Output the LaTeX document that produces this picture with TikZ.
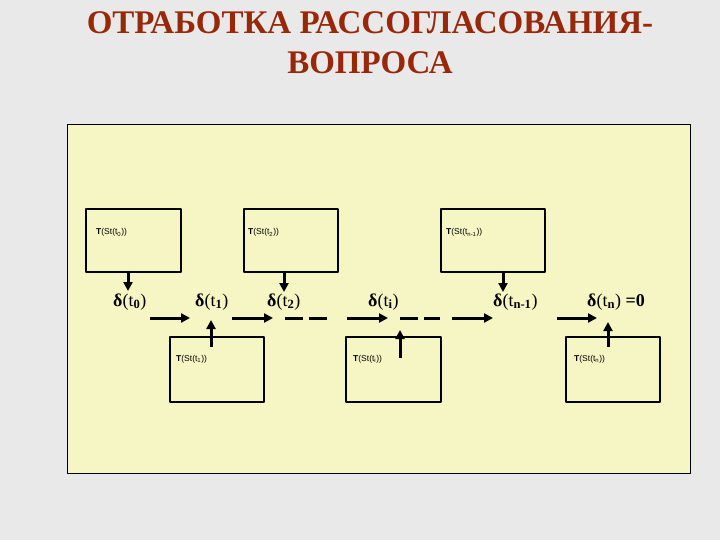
\documentclass[tikz,border=0pt]{standalone}
\usepackage{fontspec}
\setmainfont{Liberation Serif}
\newfontfamily\boxfont{Liberation Sans}
\usetikzlibrary{calc,arrows.meta,positioning}

\definecolor{slidegray}{RGB}{233,233,233}
\definecolor{panelyellow}{RGB}{246,246,196}
\definecolor{titlered}{RGB}{152,40,10}

\tikzset{
  stbox/.style={draw,line width=2pt,inner sep=0pt,minimum width=#1},
  stlabel/.style={anchor=base west,inner sep=0pt,font=\boxfont\fontsize{8.5}{9}\selectfont},
  dlabel/.style={anchor=base west,inner sep=0pt,font=\fontsize{18}{20}\selectfont},
  sarrow/.style={line width=3pt,-{Triangle[length=9pt,width=9pt]}},
  gapline/.style={line width=3pt,dash pattern=on 18pt off 6pt}
}
\newcommand{\dlt}[1]{\textbf{δ}(t\textsubscript{\textbf{#1}})}
\newcommand{\tst}[1]{\textbf{T}(St(t\textsubscript{#1}))}

\begin{document}
\begin{tikzpicture}[x=1pt,y=-1pt,line join=round]
  \fill[slidegray] (0,0) rectangle (720,540);
  \useasboundingbox (0,0) rectangle (720,540);
  \node[anchor=base,font=\fontsize{33}{36}\selectfont\bfseries,text=titlered,inner sep=0pt]
    (title1) at (370,34) {ОТРАБОТКА РАССОГЛАСОВАНИЯ-};
  \node[anchor=base,font=\fontsize{33}{36}\selectfont\bfseries,text=titlered,inner sep=0pt]
    (title2) at (370,74) {ВОПРОСА};
  \draw[fill=panelyellow,line width=1pt] (67,125) rectangle (690,473);

  % upper boxes
  \node[stbox=95pt,minimum height=63pt] (b0) at (133.5,240.5) {};
  \node[stbox=94pt,minimum height=63pt] (b2) at (291,240.5) {};
  \node[stbox=104pt,minimum height=63pt] (bn1) at (493,240.5) {};
  \node[stlabel] (l0) at ($(b0.north west)+(11,27)$) {\tst{0}};
  \node[stlabel] (l2) at ($(b2.north west)+(5,27)$) {\tst{2}};
  \node[stlabel] (ln1) at ($(bn1.north west)+(6,27)$) {\tst{n-1}};

  % lower boxes
  \node[stbox=94pt,minimum height=65pt] (b1) at (217,369.5) {};
  \node[stbox=95pt,minimum height=65pt] (bi) at (393.5,369.5) {};
  \node[stbox=94pt,minimum height=65pt] (bn) at (613,369.5) {};
  \node[stlabel] (l1) at ($(b1.north west)+(7,25)$) {\tst{1}};
  \node[stlabel] (li) at ($(bi.north west)+(8,25)$) {\tst{i}};
  \node[stlabel] (ln) at ($(bn.north west)+(9,25)$) {\tst{n}};

  % mismatch values
  \node[dlabel] (d0) at (113,306) {\dlt{0}};
  \node[dlabel] (d1) at (195,306) {\dlt{1}};
  \node[dlabel] (d2) at (267,306) {\dlt{2}};
  \node[dlabel] (di) at (368,306) {\dlt{i}};
  \node[dlabel] (dn1) at (493,306) {\dlt{n-1}};
  \node[dlabel] (dn) at (587,306) {\dlt{n} \textbf{=0}};

  \draw[sarrow] (b0.south -| 128,0) -- (128,291);
  \draw[sarrow] (b2.south -| 284,0) -- (284,292);
  \draw[sarrow] (bn1.south -| 503,0) -- (503,292);
  \coordinate (u1) at (211,347); \coordinate (v1) at (211,320);
  \coordinate (ui) at (400,358); \coordinate (vi) at (400,330);
  \coordinate (un) at (608,347); \coordinate (vn) at (608,322);
  \draw[sarrow] (u1) -- (v1);
  \draw[sarrow] (ui) -- (vi);
  \draw[sarrow] (un) -- (vn);

  % steps
  \foreach \a/\b in {150/190,232/273,347/388,452/493,557/597}
    \draw[sarrow] (\a,318) -- (\b,318);
  \draw[gapline] (285,318) -- (327,318);
  \draw[gapline] (400,318) -- (440,318);
\end{tikzpicture}
\end{document}
